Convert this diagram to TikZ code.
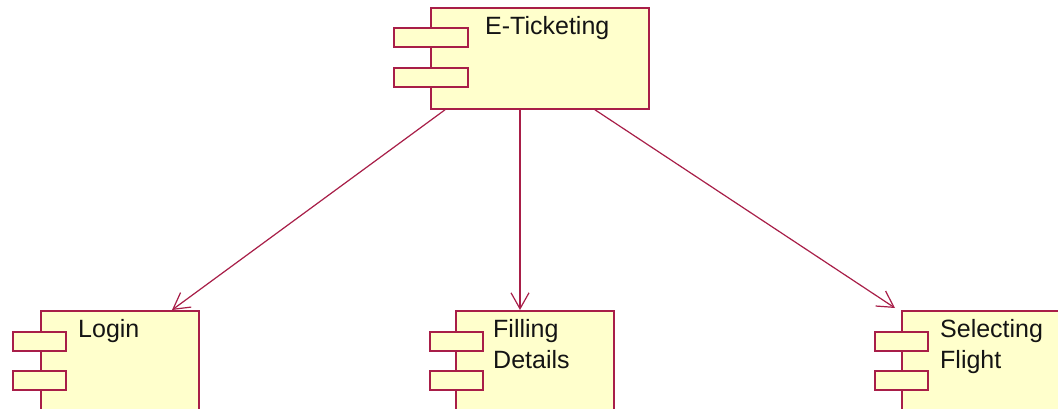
\documentclass[tikz,border=0pt]{standalone}
\usepackage{fontspec}
\setmainfont{Liberation Sans}
\usetikzlibrary{arrows.meta,calc}
\definecolor{umlline}{RGB}{168,30,72}
\definecolor{umlfill}{RGB}{255,255,204}
\definecolor{umltext}{RGB}{20,20,20}
\tikzset{
  comp/.style={draw=umlline, fill=umlfill, line width=1.8pt, rectangle, inner sep=0pt, anchor=north west},
  port/.style={draw=umlline, fill=umlfill, line width=1.8pt, rectangle, inner sep=0pt, minimum width=53pt, minimum height=19pt, anchor=north west},
  lbl/.style={inner sep=0pt, text=umltext, font=\fontsize{25}{31}\selectfont, align=left, anchor=base west},
  dep/.style={draw=umlline, line width=1.2pt, -{Straight Barb[length=16pt,width=18pt,line width=1.2pt]}}
}
\begin{document}
\begin{tikzpicture}[x=1pt,y=-1pt]
\useasboundingbox (0,0) rectangle (1058,408);
\clip (0,0) rectangle (1058,408);
\fill[white] (0,0) rectangle (1058,408);
% top component
\node[comp, minimum width=218pt, minimum height=101pt] (top) at (430,7) {};
\node[port, minimum width=74pt] (topp1) at (393,27) {};
\node[port, minimum width=74pt] (topp2) at (393,67) {};
\node[lbl] (toplbl) at (485,34) {E-Ticketing};
% login
\node[comp, minimum width=158pt, minimum height=140pt] (login) at (40,310) {};
\node[port] (loginp1) at (12,331) {};
\node[port] (loginp2) at (12,370) {};
\node[lbl] (loginlbl) at (78,337) {Login};
% filling details
\node[comp, minimum width=158pt, minimum height=140pt] (fill) at (455,310) {};
\node[port] (fillp1) at (429,331) {};
\node[port] (fillp2) at (429,370) {};
\node[lbl] (filllbl) at (493,368) {Filling\\Details};
% selecting flight
\node[comp, minimum width=170pt, minimum height=140pt] (sel) at (901,310) {};
\node[port] (selp1) at (874,331) {};
\node[port] (selp2) at (874,370) {};
\node[lbl] (sellbl) at (940,368) {Selecting\\Flight};
% connectors
\draw[dep] ($(top.south west)+(15,0)$) -- ($(login.north west)+(132,0)$);
\draw[dep] ($(top.south west)+(90,0)$) -- ($(fill.north west)+(65,0)$);
\draw[dep] ($(top.south west)+(165,0)$) -- ($(sel.north west)+(-6,-2)$);
\end{tikzpicture}
\end{document}
